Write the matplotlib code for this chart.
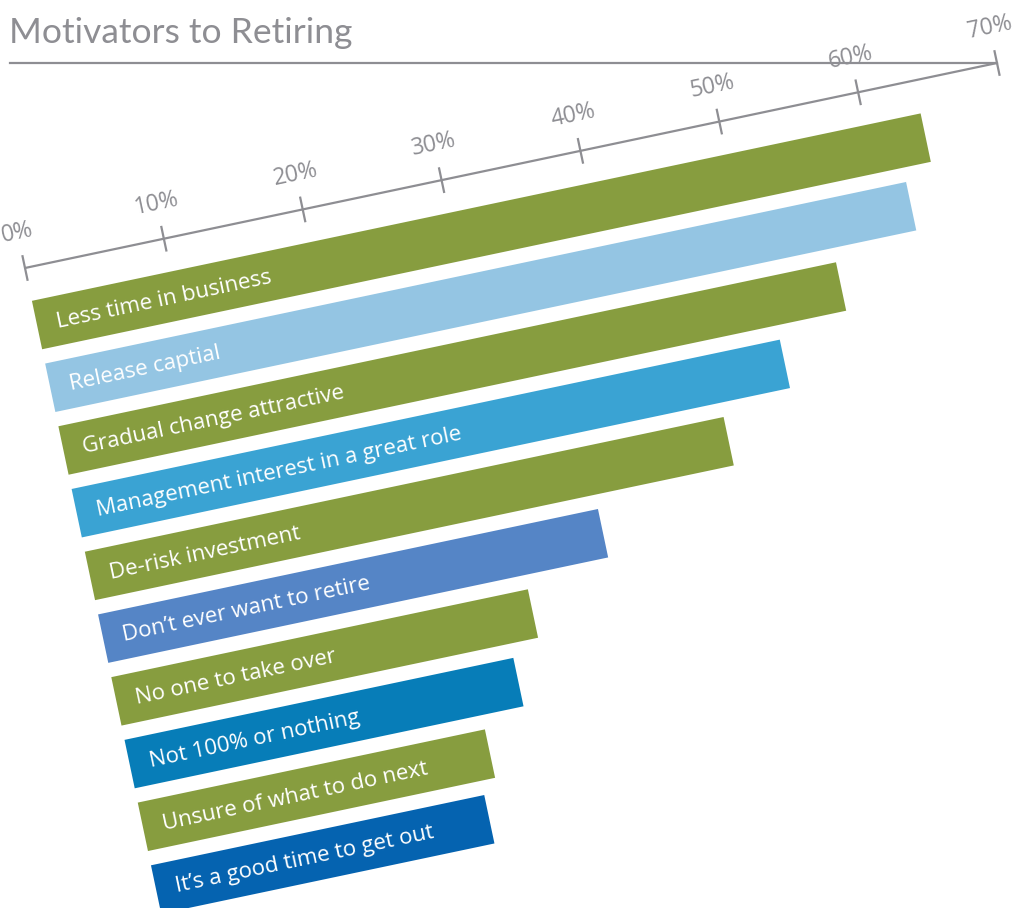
import numpy as np
import matplotlib
matplotlib.use("Agg")
import matplotlib.pyplot as plt
from matplotlib.transforms import Affine2D

plt.rcParams['font.family'] = ['Open Sans', 'DejaVu Sans']

# data
labels = ["Less time in business", "Release captial", "Gradual change attractive",
          "Management interest in a great role", "De-risk investment",
          "Don\u2019t ever want to retire", "No one to take over", "Not 100% or nothing",
          "Unsure of what to do next", "It\u2019s a good time to get out"]
values = [64, 62, 56, 51, 46, 36, 30, 28, 25, 24]
colors = ["#879D3F", "#94C5E3", "#879D3F", "#3AA3D3", "#879D3F",
          "#5585C6", "#879D3F", "#077DB8", "#879D3F", "#0563B0"]
ticks = [0, 10, 20, 30, 40, 50, 60, 70]
tick_labels = [f"{t}%" for t in ticks]

GRAY = "#8E8E93"
W, H = 1017, 908

# rotated frame: x = percent, y = pixels below the axis line
origin = (25.0, 268.0)
end = (997.0, 63.0)
theta = np.arctan2(origin[1] - end[1], end[0] - origin[0])
scale = np.hypot(end[0] - origin[0], end[1] - origin[1]) / 70.0
frame = Affine2D.from_values(scale * np.cos(theta), -scale * np.sin(theta),
                             np.sin(theta), np.cos(theta), origin[0], origin[1])
angle = np.degrees(theta)

fig = plt.figure(figsize=(W / 100, H / 100), dpi=100)
ax = fig.add_axes([0, 0, 1, 1])
tr = frame + ax.transData

spacing = 64.1
bar_h = 49.5
centers = 58.3 + spacing * np.arange(len(values))

ax.barh(centers, values, height=bar_h, color=colors, transform=tr, linewidth=0)

for c, lab in zip(centers, labels):
    ax.text(1.4, c + 7, lab, transform=tr, rotation=angle, rotation_mode='anchor',
            ha='left', va='baseline', color='white', fontsize=16)

# rotated axis
ax.plot([0, 70], [0, 0], color=GRAY, lw=1.6, transform=tr, solid_capstyle='butt')
for t, tl in zip(ticks, tick_labels):
    ax.plot([t, t], [-12, 12], color=GRAY, lw=1.6, transform=tr)
    ax.text(t, -36, tl, transform=tr, rotation=angle, rotation_mode='anchor',
            ha='center', va='center', color=GRAY, fontsize=16.5)

# title and underline
ax.plot([10, end[0]], [63, 63], color=GRAY, lw=1.6)
ax.text(9, 43, "Motivators to Retiring", color=GRAY, fontsize=25.5,
        family=['Lato', 'DejaVu Sans'], fontweight='normal',
        ha='left', va='baseline')

ax.set_xlim(0, W)
ax.set_ylim(H, 0)
ax.axis('off')

fig.savefig("out.png", dpi=100)
